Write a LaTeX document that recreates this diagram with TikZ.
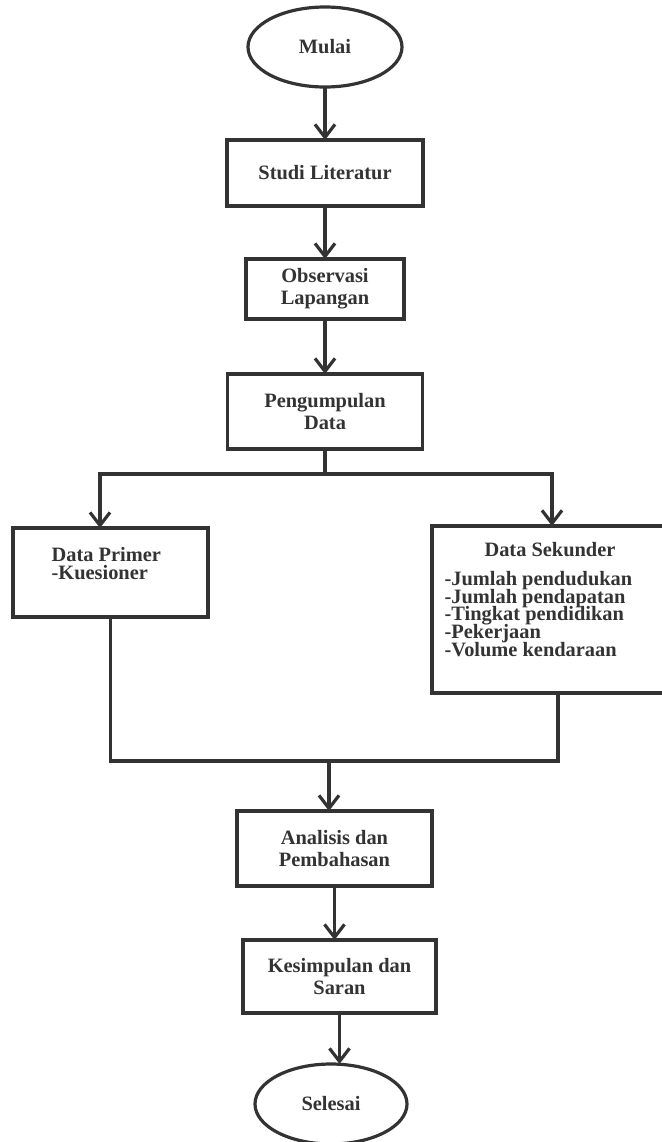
\documentclass[tikz,border=0pt]{standalone}
\usepackage{fontspec}
\setmainfont{Liberation Serif}
\usetikzlibrary{arrows.meta,positioning,shapes.geometric}
\newcommand{\boxfont}{\fontsize{10.2}{11}\selectfont\bfseries\lineskiplimit=-6pt}
\newcommand{\listfont}{\fontsize{10.2}{8.8}\selectfont\bfseries\lineskiplimit=-6pt}

\begin{document}
\begin{tikzpicture}[>={Straight Barb[length=6.5pt,width=10pt]},line width=1.6pt,color=black!80,
  box/.style={rectangle,draw,line width=1.8pt,inner sep=0pt,outer sep=0pt,align=center,font=\boxfont},
  term/.style={ellipse,draw,inner sep=0pt,outer sep=0pt,font=\boxfont},
  note/.style={inner sep=0pt,align=left,font=\listfont}]
  \useasboundingbox (0,0) rectangle (330.5pt,-571pt);

  \node[term,minimum width=77pt,minimum height=40pt] (mulai) at (162.5pt,-23.5pt) {Mulai};
  \node[box,minimum width=98pt,minimum height=33pt] (studi) [below=26.5pt of mulai] {Studi Literatur};
  \node[box,minimum width=79pt,minimum height=30pt] (obs) [below=26.5pt of studi] {Observasi\\Lapangan};
  \node[box,minimum width=97.5pt,minimum height=37.5pt] (pump) [below=27.5pt of obs] {Pengumpulan\\Data};
  \node[box,minimum width=97.5pt,minimum height=44.5pt] (primer) [below=39.5pt of pump,xshift=-107.25pt] {};
  \node[box,minimum width=116pt,minimum height=83.5pt] (sekunder) [below=38.5pt of pump,xshift=111.5pt] {};
  \node[box,minimum width=97.5pt,minimum height=37.5pt] (anal) [below=181pt of pump,xshift=4.75pt] {Analisis dan\\Pembahasan};
  \node[box,minimum width=96.5pt,minimum height=36.5pt] (kesim) [below=27pt of anal,xshift=2.5pt] {Kesimpulan dan\\Saran};
  \node[term,minimum width=76pt,minimum height=40pt] (selesai) [below=25.5pt of kesim,xshift=-4.25pt] {Selesai};

  % texts inside the two data boxes
  \node[note,anchor=north west] (primertxt) at ([xshift=18.5pt,yshift=-9pt]primer.north west) {Data Primer\\-Kuesioner};
  \node[note] (sekhead) at ([xshift=1pt,yshift=-12pt]sekunder.north) {Data Sekunder};
  \node[note,anchor=north west] (sektxt) at ([xshift=5.5pt,yshift=-22pt]sekunder.north west)
    {-Jumlah pendudukan\\-Jumlah pendapatan\\-Tingkat pendidikan\\-Pekerjaan\\-Volume kendaraan};

  \coordinate[below=12.5pt of pump] (split);
  \coordinate (merge) at ([xshift=-2.75pt,yshift=25pt]anal.north);

  \draw[->] (mulai) -- (studi);
  \draw[->] (studi) -- (obs);
  \draw[->] (obs) -- (pump);
  \draw (pump) -- (split);
  \draw[->] (split) -| ([xshift=-5.25pt]primer.north);
  \draw[->] (split) -| ([xshift=2pt]sekunder.north);
  \draw (primer.south) |- (merge);
  \draw ([xshift=5pt]sekunder.south) |- (merge);
  \draw[->] (merge) -- (merge |- anal.north);
  \draw[->] (anal) -- (anal |- kesim.north);
  \draw[->] (kesim) -- (kesim |- selesai.north);
\end{tikzpicture}
\end{document}
